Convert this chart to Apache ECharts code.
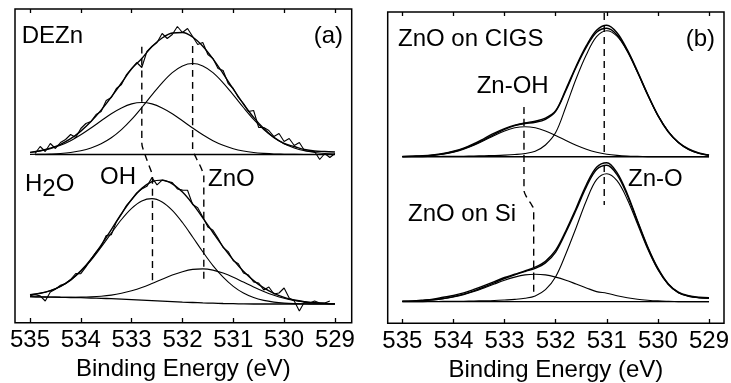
<!DOCTYPE html>
<html><head><meta charset="utf-8">
<script src="https://cdn.jsdelivr.net/npm/echarts@6/dist/echarts.min.js"></script>
<style>html,body{margin:0;padding:0;background:#fff}#c{width:731px;height:383px}</style>
</head><body><div id="c"></div>
<script>
// ---------- axis ticks ----------
const tickValues = [535, 534, 533, 532, 531, 530, 529];
const axisTitle = 'Binding Energy (eV)';

// ---------- energy grids (eV) ----------
const energyFit = [535.0,534.8,534.6,534.4,534.2,534.0,533.8,533.6,533.4,533.2,533.0,532.8,532.6,532.4,532.2,532.0,531.8,531.6,531.4,531.2,531.0,530.8,530.6,530.4,530.2,530.0,529.8,529.6,529.4,529.2,529.0];
const energyRawDEZn = [534.9,534.8,534.7,534.6,534.5,534.4,534.3,534.2,534.1,534.0,533.9,533.8,533.7,533.6,533.5,533.4,533.3,533.2,533.1,533.0,532.9,532.8,532.7,532.6,532.5,532.4,532.3,532.2,532.1,532.0,531.9,531.8,531.7,531.6,531.5,531.4,531.3,531.2,531.1,531.0,530.9,530.8,530.7,530.6,530.5,530.4,530.3,530.2,530.1,530.0,529.9,529.8,529.7,529.6,529.5,529.4,529.3,529.2,529.1,529.0];
const energyRawH2O = [535.0,534.9,534.8,534.7,534.6,534.5,534.4,534.3,534.2,534.1,534.0,533.9,533.8,533.7,533.6,533.5,533.4,533.3,533.2,533.1,533.0,532.9,532.8,532.7,532.6,532.5,532.4,532.3,532.2,532.1,532.0,531.9,531.8,531.7,531.6,531.5,531.4,531.3,531.2,531.1,531.0,530.9,530.8,530.7,530.6,530.5,530.4,530.3,530.2,530.1,530.0,529.9,529.8,529.7,529.6,529.5,529.4,529.3,529.2,529.1];

// ---------- panel (a): DEZn (upper) ----------
const offsetDEZn = 167.5;
const rawDEZn = [1,8,3,11,6,12,15,20,17,26,31,33,40,43,54,57,66,70,80,86,92,87,103,108,112,121,116,120,128,122,126,118,110,112,100,96,86,84,71,66,57,51,43,44,27,27,24,18,21,13,16,9,12,4,3,3,-5,1,-3,1];
const envDEZn = [2.1,3.7,6.3,10.2,15.8,23.4,33.0,44.4,57.5,71.5,85.7,96,108,116.5,121.5,122,117.5,108.3,95.7,80.9,65.4,50.5,37.1,26.0,17.2,11.0,8,5,3.5,3,2.5];
const ohDEZn = [2.0,3.5,5.8,9.2,13.8,19.7,26.5,33.7,40.8,46.6,50.6,52,50.6,46.6,40.8,33.7,26.5,19.7,13.8,9.2,5.8,3.5,2.0,1.1,0.5,0.3,0.1,0,0,0,0];
const znoDEZn = [0.1,0.2,0.5,1.0,2.0,3.7,6.5,10.7,16.7,24.9,35.1,47.0,59.6,71.7,81.9,88.6,91,88.6,81.9,71.7,59.6,47.0,35.1,24.9,16.7,10.7,6.5,3.7,2.0,1.0,0.5];

// ---------- panel (a): H2O (lower) ----------
const baseH2O = [25.3,25.1,24.9,24.7,24.5,24.3,24.0,23.7,23.3,22.9,22.4,21.9,21.4,20.9,20.4,19.9,19.5,19.1,18.8,18.5,18.3,18.1,18.0,18.0,18.0,18.0,18.0,18.0,18.0,18.0,18.0];
const rawH2O = [1,2,1,-4,5,8,12,14,18,24,24,31,39,46,52,63,64,77,85,94,100,107,111,114,123,116,121,120,119,113,112,112,98,95,86,76,73,65,56,52,43,40,31,29,22,21,14,17,10,11,16,6,3,-7,2,1,3,1,1,3];
const envH2O = [1.9,3.6,6.5,11.0,17.6,26.9,38.8,53.2,69.1,85.4,100.1,111.7,119.0,121.0,117.8,110.0,98.6,85.1,70.7,56.7,43.8,32.6,23.4,16.1,10.7,6.7,4.0,2.3,1.3,0.6,0.3];
const ohH2O = [1.9,3.6,6.4,10.8,17.3,26.3,37.6,51.1,65.5,79.6,91.3,99.2,102,99.2,91.3,79.6,65.5,51.1,37.6,26.3,17.3,10.8,6.4,3.6,1.9,0.9,0.4,0.2,0.1,0,0];
const znoH2O = [0,0,0.1,0.15,0.3,0.6,1.2,2.1,3.6,5.8,8.8,12.5,17.0,21.8,26.5,30.4,33.1,34,33.1,30.4,26.5,21.8,17.0,12.5,8.8,5.8,3.6,2.1,1.2,0.6,0.3];

// ---------- panel (b): ZnO on CIGS (upper) ----------
const offsetCIGS = 166.3;
const rawCIGS = [0.3,0.6,0.9,1.8,3.3,5.5,8.5,13.0,18.2,23.5,28.0,31.5,33.8,35.5,38.5,46.0,67.5,90.5,111,126.5,131.5,124,107,85.5,62.5,41,25,14.5,7.8,3.8,1.5];
const envCIGS = [0.1,0.3,0.7,1.5,2.8,4.9,8.0,12.1,17.1,22.4,27.3,31.1,33.2,34.4,37.4,45.3,66.2,89.4,109.5,124.5,128.5,121.8,106.0,84.7,61.9,41.4,25.4,14.2,7.3,3.4,1.5];
const znohCIGS = [0.1,0.3,0.6,1.3,2.5,4.5,7.5,11.4,16.2,21.2,25.7,28.9,30,28.9,25.7,21.2,16.2,11.4,7.5,4.5,2.5,1.3,0.6,0.3,0.1,0,0,0,0,0,0];
const znoCIGS = [0,0,0.1,0.2,0.3,0.4,0.5,0.7,0.9,1.2,1.6,2.2,3.2,5.5,11.7,24.1,50,78,102,120,126,120.5,105.4,84.4,61.8,41.4,25.4,14.2,7.3,3.4,1.5];

// ---------- panel (b): ZnO on Si (lower) ----------
const offsetSi = 21.3;
const rawSi = [0.5,0.8,1.6,2.6,4.4,6.2,8.8,12.3,16.0,20.0,24.2,27.5,30.8,34.5,40.5,51.5,71,93.5,117,134.5,139,129,108,81,55,33.5,18,9.5,6,4.5,4];
const envSi = [0.3,0.5,1.1,1.9,3.2,5.1,7.6,10.8,14.7,18.9,23.2,26.9,30.2,33.3,38.8,49.6,69.5,91.7,114.8,132.1,136.5,127,106.5,80.2,54.1,32.7,17.7,9.1,5.5,4,3.5];
const znohSi = [0.3,0.5,1.0,1.7,2.9,4.7,7.1,10.1,13.8,17.7,21.5,24.6,26.8,27.5,26.8,24.6,21.5,17.7,13.8,10.1,8.5,6,4,2.5,1.5,0.8,0.4,0.1,0,0,0];
const znoSi = [0,0,0.1,0.2,0.3,0.4,0.5,0.7,0.9,1.2,1.7,2.3,3.4,5.8,12,25,48,74,101,122,128,121,102.5,77.7,52.6,31.9,17.3,9,5.5,4,3.5];

// ---------- peak-position guide lines (eV, intensity) ----------
const guideOH_a  = [[532.80,275.3],[532.80,179],[532.74,168],[532.67,158],[532.61,150],[532.59,145],[532.59,40.3]];
const guideZnO_a = [[531.80,276],[531.80,174],[531.73,164],[531.65,156],[531.60,150],[531.58,147],[531.58,40.3]];
const guideZnOH_b = [[532.62,216],[532.62,133],[532.56,125],[532.48,119],[532.43,113],[532.43,31.3]];
const guideZnO_b_top = [[531.05,310],[531.05,168]];
const guideZnO_b_bot = [[531.05,158],[531.05,118]];

// ---------- build ----------
function interp(xs, ys, e) {
  for (let i = 0; i < xs.length - 1; i++) {
    const a = xs[i], b = xs[i + 1];
    if ((e <= a && e >= b) || (e >= a && e <= b)) {
      const t = (e - a) / (b - a);
      return ys[i] + t * (ys[i + 1] - ys[i]);
    }
  }
  return ys[ys.length - 1];
}
const constBase = v => () => v;
const h2oBase = e => interp(energyFit, baseH2O, e);
function onBase(energies, heights, baseFn) {
  return energies.map((e, i) => [e, baseFn(e) + heights[i]]);
}
const FONT = '"Liberation Sans", Arial, Helvetica, sans-serif';
function line(xi, yi, data, width, smooth, type) {
  return {
    type: 'line', xAxisIndex: xi, yAxisIndex: yi, data: data,
    showSymbol: false, symbol: 'none', smooth: smooth ? 0.35 : false,
    silent: true, animation: false, z: 3,
    lineStyle: { color: '#000', width: width, type: type || 'solid' }
  };
}
const DASH = [7, 5];
const lastFit = energyFit[energyFit.length - 1];
const series = [
  // (a) upper DEZn
  line(0,0,onBase(energyRawDEZn, rawDEZn, constBase(offsetDEZn)), 1.1, false),
  line(0,0,onBase(energyFit, envDEZn, constBase(offsetDEZn)), 1.4, true),
  line(0,0,onBase(energyFit, ohDEZn, constBase(offsetDEZn)), 1.1, true),
  line(0,0,onBase(energyFit, znoDEZn, constBase(offsetDEZn)), 1.1, true),
  line(0,0,[[energyRawDEZn[0], offsetDEZn],[lastFit, offsetDEZn]], 1.4, false),
  // (a) lower H2O
  line(0,0,onBase(energyRawH2O, rawH2O, h2oBase), 1.1, false),
  line(0,0,onBase(energyFit, envH2O, h2oBase), 1.4, true),
  line(0,0,onBase(energyFit, ohH2O, h2oBase), 1.1, true),
  line(0,0,onBase(energyFit, znoH2O, h2oBase), 1.1, true),
  line(0,0,energyFit.map((e,i)=>[e, baseH2O[i]]), 1.3, true),
  // (a) guides
  line(0,0,guideOH_a, 1.4, true, DASH),
  line(0,0,guideZnO_a, 1.4, true, DASH),
  // (b) upper CIGS
  line(2,1,onBase(energyFit, rawCIGS, constBase(offsetCIGS)), 1.4, true),
  line(2,1,onBase(energyFit, envCIGS, constBase(offsetCIGS)), 1.4, true),
  line(2,1,onBase(energyFit, znohCIGS, constBase(offsetCIGS)), 1.1, true),
  line(2,1,onBase(energyFit, znoCIGS, constBase(offsetCIGS)), 1.1, true),
  line(2,1,[[energyFit[0], offsetCIGS],[lastFit, offsetCIGS]], 1.4, false),
  // (b) lower Si
  line(2,1,onBase(energyFit, rawSi, constBase(offsetSi)), 1.4, true),
  line(2,1,onBase(energyFit, envSi, constBase(offsetSi)), 1.4, true),
  line(2,1,onBase(energyFit, znohSi, constBase(offsetSi)), 1.1, true),
  line(2,1,onBase(energyFit, znoSi, constBase(offsetSi)), 1.1, true),
  line(2,1,[[energyFit[0], offsetSi],[lastFit, offsetSi]], 1.3, false),
  // (b) guides
  line(2,1,guideZnOH_b, 1.4, true, DASH),
  line(2,1,guideZnO_b_top, 1.4, false, DASH),
  line(2,1,guideZnO_b_bot, 1.4, false, DASH)
];

function xAxisPair(gi, min, max) {
  const common = {
    type: 'value', gridIndex: gi, min: min, max: max, inverse: true,
    axisLine: { show: false }, splitLine: { show: false },
    axisTick: { show: true, inside: true, length: 4, customValues: tickValues,
                lineStyle: { color: '#000', width: 1.3 } }
  };
  return [
    Object.assign({}, common, {
      position: 'bottom',
      axisLabel: { show: true, customValues: tickValues, margin: 6, color: '#000',
                   fontSize: 24, fontFamily: FONT, formatter: v => String(Math.round(v)) },
      name: axisTitle, nameLocation: 'middle', nameGap: 33,
      nameTextStyle: { color: '#000', fontSize: 24, fontFamily: FONT }
    }),
    Object.assign({}, common, { position: 'top', axisLabel: { show: false } })
  ];
}

function label(text, x, y, align) {
  return { type: 'text', x: x, y: y, silent: true, z: 10,
    style: { text: text, fill: '#000', font: '24px ' + FONT,
             align: align || 'left', verticalAlign: 'middle',
             textAlign: align || 'left', textVerticalAlign: 'middle' } };
}
const h2oLabel = { type: 'text', x: 25, y: 184, silent: true, z: 10,
  style: { text: 'H{s|2}O', fill: '#000', font: '24px ' + FONT,
           align: 'left', verticalAlign: 'middle', textAlign: 'left', textVerticalAlign: 'middle',
           rich: { s: { fontSize: 24, fontFamily: FONT, fill: '#000', padding: [10, 0, 0, 0] } } } };

const gridCommon = { show: true, borderColor: '#000', borderWidth: 1.5, backgroundColor: 'transparent',
                     containLabel: false, outerBoundsMode: 'none' };
const option = {
  backgroundColor: '#fff',
  animation: false,
  grid: [
    Object.assign({ left: 15, top: 9, width: 336.7, height: 313.7 }, gridCommon),
    Object.assign({ left: 387.7, top: 12, width: 336.3, height: 311.3 }, gridCommon)
  ],
  xAxis: [].concat(xAxisPair(0, 528.67, 535.295), xAxisPair(1, 528.707, 535.286)),
  yAxis: [
    { type: 'value', gridIndex: 0, min: -0.7, max: 313, show: false },
    { type: 'value', gridIndex: 1, min: -0.3, max: 311, show: false }
  ],
  series: series,
  graphic: { elements: [
    label('DEZn', 21.7, 36),
    label('(a)', 343, 36, 'right'),
    h2oLabel,
    label('OH', 100, 177.5),
    label('ZnO', 208, 179),
    label('ZnO on CIGS', 398, 39.5),
    label('(b)', 715, 39, 'right'),
    label('Zn-OH', 476.7, 86.5),
    label('Zn-O', 628, 179),
    label('ZnO on Si', 408, 214)
  ] }
};

const chart = echarts.init(document.getElementById('c'), null, { renderer: 'canvas' });
chart.setOption(option);
</script></body></html>
